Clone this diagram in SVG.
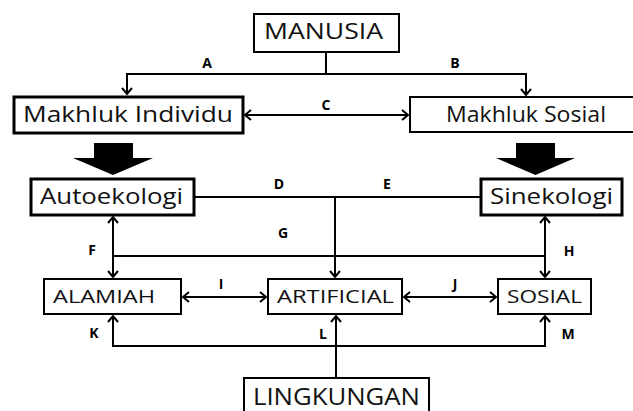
<svg xmlns="http://www.w3.org/2000/svg" width="633" height="411" viewBox="0 0 633 411">
<defs>
<style>
.box{fill:#fff;stroke:#000;stroke-width:2}
.thick{stroke-width:3}
.t{font-family:"Open Sans","Liberation Sans",sans-serif;fill:#111}
.lb{font-family:"Open Sans","Liberation Sans",sans-serif;font-weight:bold;font-size:14px;fill:#000;text-anchor:middle}
.c{fill:none;stroke:#000;stroke-width:2}
.fat{fill:#000}
</style>
<marker id="ah" viewBox="-8 -6 10 12" markerWidth="10" markerHeight="12" refX="0" refY="0" orient="auto-start-reverse" markerUnits="userSpaceOnUse">
<path d="M-6,-5 L0,0 L-6,5" fill="none" stroke="#000" stroke-width="2"/>
</marker>
</defs>
<rect width="633" height="411" fill="#fff"/>
<g id="connectors">
<polyline class="c" points="326,52 326,74"/>
<polyline class="c" points="326,74 127,74 127,94" marker-end="url(#ah)"/>
<polyline class="c" points="326,74 526,74 526,95" marker-end="url(#ah)"/>
<line class="c" x1="245" y1="115" x2="408" y2="115" marker-start="url(#ah)" marker-end="url(#ah)"/>
<polyline class="c" points="195,197 480,197"/>
<polyline class="c" points="335,197 335,277" marker-end="url(#ah)"/>
<line class="c" x1="113" y1="217" x2="113" y2="277" marker-start="url(#ah)" marker-end="url(#ah)"/>
<line class="c" x1="545" y1="217" x2="545" y2="277" marker-start="url(#ah)" marker-end="url(#ah)"/>
<polyline class="c" points="113,256 545,256"/>
<line class="c" x1="183" y1="297" x2="266" y2="297" marker-start="url(#ah)" marker-end="url(#ah)"/>
<line class="c" x1="404" y1="297" x2="496" y2="297" marker-start="url(#ah)" marker-end="url(#ah)"/>
<polyline class="c" points="113,316 113,346 545,346 545,316" marker-start="url(#ah)" marker-end="url(#ah)"/>
<polyline class="c" points="336,378 336,316" marker-end="url(#ah)"/>
<polygon class="fat" points="94,143 133,143 133,158 153,158 113,175 73,158 94,158"/>
<polygon class="fat" points="516,143 555,143 555,158 575,158 535.5,175 496,158 516,158"/>
<text class="lb" x="207" y="68">A</text>
<text class="lb" x="455" y="68">B</text>
<text class="lb" x="326" y="110">C</text>
<text class="lb" x="279" y="189">D</text>
<text class="lb" x="387" y="189">E</text>
<text class="lb" x="92" y="255">F</text>
<text class="lb" x="283" y="238">G</text>
<text class="lb" x="569" y="256">H</text>
<text class="lb" x="221" y="289">I</text>
<text class="lb" x="455" y="289">J</text>
<text class="lb" x="94" y="338">K</text>
<text class="lb" x="323" y="339">L</text>
<text class="lb" x="568" y="339">M</text>
</g>
<g id="manusia">
<rect class="box" x="254" y="14" width="145" height="38"/>
<text class="t" x="264" y="39" font-size="21" textLength="119" lengthAdjust="spacingAndGlyphs">MANUSIA</text>
</g>
<g id="makhluk-individu">
<rect class="box thick" x="14" y="97" width="229" height="36"/>
<text class="t" x="23" y="122" font-size="21" textLength="210" lengthAdjust="spacingAndGlyphs">Makhluk Individu</text>
</g>
<g id="makhluk-sosial">
<rect class="box" x="410" y="97" width="230" height="35"/>
<text class="t" x="446" y="122" font-size="21" textLength="160" lengthAdjust="spacingAndGlyphs">Makhluk Sosial</text>
</g>
<g id="autoekologi">
<rect class="box thick" x="31" y="179" width="163" height="36"/>
<text class="t" x="40" y="204" font-size="21" textLength="143" lengthAdjust="spacingAndGlyphs">Autoekologi</text>
</g>
<g id="sinekologi">
<rect class="box thick" x="481" y="179" width="141" height="36"/>
<text class="t" x="490" y="204" font-size="21" textLength="123" lengthAdjust="spacingAndGlyphs">Sinekologi</text>
</g>
<g id="alamiah">
<rect class="box" x="44" y="279" width="137" height="35"/>
<text class="t" x="53" y="303" font-size="18" textLength="102" lengthAdjust="spacingAndGlyphs">ALAMIAH</text>
</g>
<g id="artificial">
<rect class="box" x="268" y="279" width="134" height="35"/>
<text class="t" x="277" y="303" font-size="18" textLength="117" lengthAdjust="spacingAndGlyphs">ARTIFICIAL</text>
</g>
<g id="sosial">
<rect class="box" x="498" y="279" width="93" height="35"/>
<text class="t" x="507" y="303" font-size="18" textLength="75" lengthAdjust="spacingAndGlyphs">SOSIAL</text>
</g>
<g id="lingkungan">
<rect class="box" x="244" y="378" width="185" height="40"/>
<text class="t" x="253" y="405" font-size="24" textLength="167" lengthAdjust="spacingAndGlyphs">LINGKUNGAN</text>
</g>
</svg>
